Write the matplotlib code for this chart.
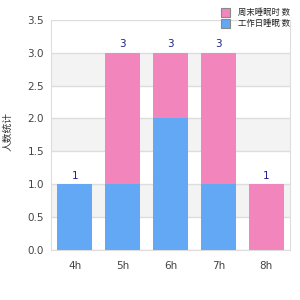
import matplotlib
matplotlib.use("Agg")
import matplotlib.pyplot as plt
from matplotlib.patches import Rectangle
import numpy as np

categories = ["4h", "5h", "6h", "7h", "8h"]
series_blue = [1, 1, 2, 1, 0]
series_pink = [0, 2, 1, 2, 1]
name_pink = "周末睡眠时 数"
name_blue = "工作日睡眠 数"
y_label = "人数统计"
y_ticks = [0.0, 0.5, 1.0, 1.5, 2.0, 2.5, 3.0, 3.5]

cjk = ["Noto Sans CJK SC", "DejaVu Sans"]
blue = "#62a8f4"
pink = "#f385bd"

fig = plt.figure(figsize=(3, 3), dpi=100)
ax = fig.add_axes([0.17, 0.167, 0.797, 0.767])

x = np.arange(len(categories))
ax.set_xlim(-0.5, len(categories) - 0.5)
ax.set_ylim(0, 3.5)

# alternating bands
for i in range(len(y_ticks) - 1):
    if i % 2 == 1:
        ax.axhspan(y_ticks[i], y_ticks[i + 1], color="#f3f3f3", zorder=0, lw=0)
for t in y_ticks:
    ax.axhline(t, color="#dddddd", lw=1, zorder=0.5)

w = 0.73
ax.bar(x, series_blue, width=w, color=blue, zorder=2, label=name_blue)
ax.bar(x, series_pink, width=w, bottom=series_blue, color=pink, zorder=2, label=name_pink)

totals = [b + p for b, p in zip(series_blue, series_pink)]
for xi, t in zip(x, totals):
    ax.text(xi, t + 0.05, str(t), ha="center", va="bottom", fontsize=7.5, color="#1f1f8f")

ax.set_xticks(x)
ax.set_xticklabels(categories)
ax.set_yticks(y_ticks)
ax.set_yticklabels([f"{t:.1f}" for t in y_ticks])
ax.tick_params(length=0, labelsize=7.5, colors="#444444", pad=5)
ax.tick_params(axis="x", pad=8)
for s in ["left", "bottom", "right"]:
    ax.spines[s].set_color("#dddddd")
ax.spines["top"].set_visible(False)

fig.text(0.025, 0.56, y_label, rotation=90, fontsize=7, color="#333333",
         ha="center", va="center", family=cjk)

# legend
leg_items = [(pink, name_pink, 0.957), (blue, name_blue, 0.923)]
for c, name, yy in leg_items:
    fig.patches.append(Rectangle((0.738, yy - 0.015), 0.03, 0.03, transform=fig.transFigure,
                                 facecolor=c, edgecolor="#888888", lw=0.8))
    fig.text(0.792, yy, name, fontsize=6, va="center", ha="left", color="#222222", family=cjk)

fig.savefig("out.png", dpi=100)
